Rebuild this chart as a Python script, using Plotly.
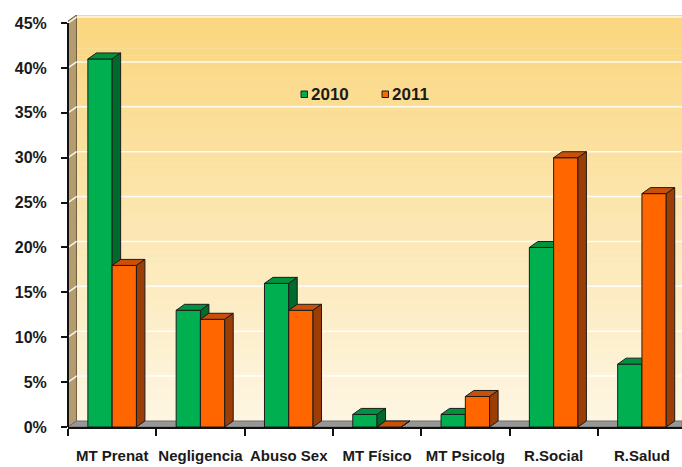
import plotly.graph_objects as go

# ---- data -------------------------------------------------------------
categories = ["MT Prenat", "Negligencia", "Abuso Sex", "MT Físico",
              "MT Psicolg", "R.Social", "R.Salud"]
values_2010 = [41, 13, 16, 1.4, 1.4, 20, 7]
values_2011 = [18, 12, 13, 0, 3.4, 30, 26]
y_ticks = [0, 5, 10, 15, 20, 25, 30, 35, 40, 45]
y_tick_labels = [f"{v}%" for v in y_ticks]

# ---- styling ------------------------------------------------------------
BAR_W = 0.275          # width of one bar (category units)
DX, DY = 0.096, 0.67   # 3-D depth offset (x in category units, y in %)
X_MIN = -0.5
X_MAX = -0.5 + 614 / 88.3
Y_MAX = 45.9
FONT = "Liberation Sans, Arial, sans-serif"
EDGE = "#1c1c1c"

series = [
    ("2010", values_2010, -BAR_W, ("#00B050", "#00923E", "#006A2C")),
    ("2011", values_2011, 0.0, ("#FF6600", "#C95008", "#9C3D06")),
]


def faces(values, offset):
    """Polygons (front, top, side) of every bar of one series."""
    fx, fy, tx, ty, sx, sy = [], [], [], [], [], []
    for i, v in enumerate(values):
        x0 = i + offset
        x1 = x0 + BAR_W
        fx += [x0, x1, x1, x0, x0, None]
        fy += [0, 0, v, v, 0, None]
        tx += [x0, x1, x1 + DX, x0 + DX, x0, None]
        ty += [v, v, v + DY, v + DY, v, None]
        sx += [x1, x1 + DX, x1 + DX, x1, x1, None]
        sy += [0, DY, v + DY, v, 0, None]
    return (fx, fy), (tx, ty), (sx, sy)


fig = go.Figure()
for name, vals, off, colors in series:
    for (xs, ys), col in zip(faces(vals, off), colors):
        fig.add_trace(go.Scatter(
            x=xs, y=ys, mode="lines", fill="toself", fillcolor=col,
            line=dict(color=EDGE, width=1), hoverinfo="skip",
            showlegend=False, name=name))

shapes = []
# back wall: vertical gradient built from thin bands
top_rgb = (250, 214, 126)
bot_rgb = (254, 246, 226)
n_bands = 60
for b in range(n_bands):
    t = b / (n_bands - 1)
    rgb = tuple(round(bot_rgb[k] + (top_rgb[k] - bot_rgb[k]) * t) for k in range(3))
    y0 = DY + (Y_MAX - DY) * b / n_bands
    y1 = DY + (Y_MAX - DY) * (b + 1) / n_bands + 0.05
    shapes.append(dict(type="rect", xref="x", yref="y", layer="below",
                       x0=X_MIN + DX, x1=X_MAX, y0=y0, y1=y1,
                       fillcolor="rgb(%d,%d,%d)" % rgb, line=dict(width=0)))
# side wall
shapes.append(dict(
    type="path", xref="x", yref="y", layer="below",
    path=f"M {X_MIN},0 L {X_MIN + DX},{DY} L {X_MIN + DX},{Y_MAX} "
         f"L {X_MIN},{Y_MAX - DY} Z",
    fillcolor="#B49C6E", line=dict(color="#6E5E40", width=1)))
# floor
shapes.append(dict(
    type="path", xref="x", yref="y", layer="below",
    path=f"M {X_MIN},0 L {X_MAX},0 L {X_MAX},{DY} L {X_MIN + DX},{DY} Z",
    fillcolor="#979797", line=dict(color="#707070", width=1)))
# gridlines on the walls
for v in y_ticks[1:]:
    shapes.append(dict(type="line", xref="x", yref="y", layer="below",
                       x0=X_MIN + DX, x1=X_MAX, y0=v + DY, y1=v + DY,
                       line=dict(color="rgba(255,255,255,0.9)", width=1.5)))
    shapes.append(dict(type="line", xref="x", yref="y", layer="below",
                       x0=X_MIN, x1=X_MIN + DX, y0=v, y1=v + DY,
                       line=dict(color="rgba(255,255,255,0.9)", width=1.5)))
# value axis line
shapes.append(dict(type="line", xref="paper", yref="y", x0=0, x1=0,
                   y0=0, y1=y_ticks[-1], line=dict(color="#111111", width=2)))

# legend keys
annotations = []
legend_items = [("2010", "#00B050", 301), ("2011", "#FF6600", 382)]
for label, col, px in legend_items:
    x0 = (px - 68) / 614
    shapes.append(dict(type="rect", xref="paper", yref="paper",
                       x0=x0, x1=x0 + 6.5 / 614,
                       y0=(427 - 97.5) / 412, y1=(427 - 91) / 412,
                       fillcolor=col, line=dict(color=EDGE, width=1)))
    annotations.append(dict(xref="paper", yref="paper",
                            x=x0 + 8 / 614, y=(427 - 94) / 412,
                            xanchor="left", yanchor="middle", showarrow=False,
                            text=label,
                            font=dict(family=FONT, size=17, color="#1a1a1a",
                                      weight="bold")))

fig.update_layout(
    width=682, height=467,
    margin=dict(l=68, r=0, t=15, b=40),
    paper_bgcolor="white", plot_bgcolor="white",
    showlegend=False,
    shapes=shapes, annotations=annotations,
    xaxis=dict(range=[X_MIN, X_MAX], tickmode="array",
               tickvals=list(range(len(categories))), ticktext=categories,
               ticks="", showgrid=False, zeroline=False,
               showline=True, linecolor="#111111", linewidth=2,
               tickfont=dict(family=FONT, size=15, color="#1a1a1a", weight="bold"),
               ticklabelstandoff=14,
               minor=dict(tickmode="array",
                          tickvals=[X_MIN + i for i in range(len(categories))],
                          ticks="outside", ticklen=7, tickwidth=2,
                          tickcolor="#111111", showgrid=False)),
    yaxis=dict(range=[0, Y_MAX], tickmode="array", tickvals=y_ticks,
               ticktext=y_tick_labels, ticks="outside", ticklen=6,
               tickwidth=2, tickcolor="#111111", showgrid=False,
               zeroline=False, showline=False,
               tickfont=dict(family=FONT, size=16, color="#1a1a1a", weight="bold"),
               ticklabelstandoff=11),
)

fig.write_html("out.html")
